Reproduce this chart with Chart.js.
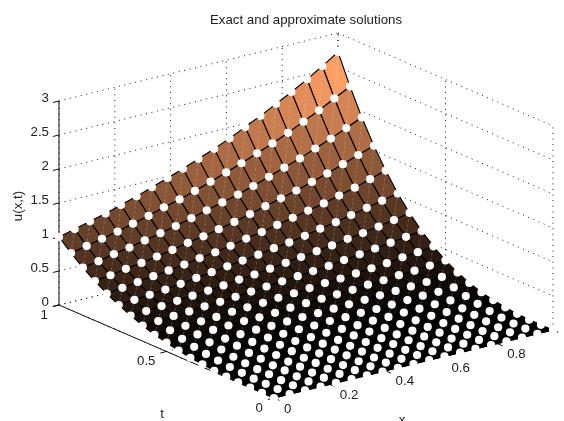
<!DOCTYPE html>
<html>
<head>
<meta charset="utf-8">
<title>Exact and approximate solutions</title>
<script src="https://cdn.jsdelivr.net/npm/chart.js@4"></script>
<style>
  html, body { margin: 0; padding: 0; background: #fff; overflow: hidden; }
  canvas { display: block; }
</style>
</head>
<body>
<canvas id="grafico" width="564" height="421"></canvas>
<script>
const titulo = 'Exact and approximate solutions';
const xNodes = [0, 0.056, 0.111, 0.167, 0.222, 0.278, 0.333, 0.389, 0.444, 0.5, 0.556, 0.611, 0.667, 0.722, 0.778, 0.833, 0.889, 0.944, 1];
const tNodes = [0, 0.056, 0.111, 0.167, 0.222, 0.278, 0.333, 0.389, 0.444, 0.5, 0.556, 0.611, 0.667, 0.722, 0.778, 0.833, 0.889, 0.944, 1];

// one row per t node, one column per x node
const uRows = [
  [0, 0, 0, 0, 0, 0, 0, 0, 0, 0, 0, 0, 0, 0, 0, 0, 0, 0, 0],
  [0, 0, 0, 0, 0, 0, 0, 0, 0, 0, 0, 0, 0, 0, 0, 0, 0, 0, 0],
  [0, 0, 0, 0, 0, 0, 0, 0, 0, 0, 0, 0, 0, 0, 0, 0, 0, 0, 0],
  [0, 0, 0.01, 0.01, 0.01, 0.01, 0.01, 0.01, 0.01, 0.01, 0.01, 0.01, 0.01, 0.01, 0.01, 0.01, 0.01, 0.01, 0.01],
  [0.01, 0.01, 0.01, 0.01, 0.01, 0.01, 0.02, 0.02, 0.02, 0.02, 0.02, 0.02, 0.02, 0.02, 0.02, 0.03, 0.03, 0.03, 0.03],
  [0.02, 0.02, 0.02, 0.03, 0.03, 0.03, 0.03, 0.03, 0.03, 0.04, 0.04, 0.04, 0.04, 0.04, 0.05, 0.05, 0.05, 0.06, 0.06],
  [0.04, 0.04, 0.04, 0.04, 0.05, 0.05, 0.05, 0.05, 0.06, 0.06, 0.06, 0.07, 0.07, 0.08, 0.08, 0.09, 0.09, 0.10, 0.10],
  [0.06, 0.06, 0.07, 0.07, 0.07, 0.08, 0.08, 0.09, 0.09, 0.10, 0.10, 0.11, 0.11, 0.12, 0.13, 0.14, 0.14, 0.15, 0.16],
  [0.09, 0.09, 0.10, 0.10, 0.11, 0.12, 0.12, 0.13, 0.14, 0.14, 0.15, 0.16, 0.17, 0.18, 0.19, 0.20, 0.21, 0.23, 0.24],
  [0.13, 0.13, 0.14, 0.15, 0.16, 0.17, 0.17, 0.18, 0.20, 0.21, 0.22, 0.23, 0.24, 0.26, 0.27, 0.29, 0.30, 0.32, 0.34],
  [0.17, 0.18, 0.19, 0.20, 0.21, 0.23, 0.24, 0.25, 0.27, 0.28, 0.30, 0.32, 0.33, 0.35, 0.37, 0.39, 0.42, 0.44, 0.47],
  [0.23, 0.24, 0.26, 0.27, 0.29, 0.30, 0.32, 0.34, 0.36, 0.38, 0.40, 0.42, 0.44, 0.47, 0.50, 0.53, 0.56, 0.59, 0.62],
  [0.30, 0.31, 0.33, 0.35, 0.37, 0.39, 0.41, 0.44, 0.46, 0.49, 0.52, 0.55, 0.58, 0.61, 0.65, 0.68, 0.72, 0.76, 0.81],
  [0.38, 0.40, 0.42, 0.44, 0.47, 0.50, 0.53, 0.56, 0.59, 0.62, 0.66, 0.69, 0.73, 0.78, 0.82, 0.87, 0.92, 0.97, 1.02],
  [0.47, 0.50, 0.53, 0.56, 0.59, 0.62, 0.66, 0.69, 0.73, 0.78, 0.82, 0.87, 0.92, 0.97, 1.02, 1.08, 1.14, 1.21, 1.28],
  [0.58, 0.61, 0.65, 0.68, 0.72, 0.76, 0.81, 0.85, 0.90, 0.95, 1.01, 1.07, 1.13, 1.19, 1.26, 1.33, 1.41, 1.49, 1.57],
  [0.70, 0.74, 0.79, 0.83, 0.88, 0.93, 0.98, 1.04, 1.10, 1.16, 1.22, 1.29, 1.37, 1.45, 1.53, 1.62, 1.71, 1.81, 1.91],
  [0.84, 0.89, 0.94, 0.99, 1.05, 1.11, 1.18, 1.24, 1.31, 1.39, 1.47, 1.55, 1.64, 1.73, 1.83, 1.94, 2.05, 2.17, 2.29],
  [1.00, 1.06, 1.12, 1.18, 1.25, 1.32, 1.40, 1.48, 1.56, 1.65, 1.74, 1.84, 1.95, 2.06, 2.18, 2.30, 2.43, 2.57, 2.72]
];

const xTicks = [0, 0.2, 0.4, 0.6, 0.8, 1];
const xTickLabels = ['0', '0.2', '0.4', '0.6', '0.8', ''];
const tTicks = [0, 0.5, 1];
const tTickLabels = ['0', '0.5', '1'];
const uTicks = [0, 0.5, 1, 1.5, 2, 2.5, 3];
const uTickLabels = ['0', '0.5', '1', '1.5', '2', '2.5', '3'];

const uMax = 2.72;

// view of the box: screen position of (x, t, u)
function projetar(x, t, u) {
  return {
    x: 274 + 279 * x - 215 * t,
    y: 398 - 68 * x - 93 * t - 68 * u
  };
}

// MATLAB copper colormap
function copper(v) {
  var r = Math.min(1, 1.25 * v) * 255;
  var g = 0.7812 * v * 255;
  var b = 0.4975 * v * 255;
  return `rgb(${Math.round(r)},${Math.round(g)},${Math.round(b)})`;
}

const quebra = { x: NaN, y: NaN };

// several separate segments in a single dataset
function segmentos(lista, cor, largura, tracejado) {
  var pontos = [];
  lista.forEach(function (seg) {
    pontos.push(projetar(seg[0], seg[1], seg[2]), projetar(seg[3], seg[4], seg[5]), quebra);
  });
  return {
    data: pontos,
    showLine: true,
    borderColor: cor,
    borderWidth: largura,
    borderDash: tracejado,
    pointRadius: 0,
    tension: 0,
    spanGaps: false
  };
}

// box walls and floor (dotted)
var grade = [];
uTicks.forEach(function (u) {
  grade.push([0, 1, u, 1, 1, u]);
  grade.push([1, 1, u, 1, 0, u]);
});
xTicks.forEach(function (x) {
  grade.push([x, 1, 0, x, 1, 3]);
  grade.push([x, 0, 0, x, 1, 0]);
});
tTicks.forEach(function (t) {
  grade.push([1, t, 0, 1, t, 3]);
  grade.push([0, t, 0, 1, t, 0]);
});

// solid axes and their tick marks
var eixos = [[0, 1, 0, 0, 1, 3], [0, 0, 0, 0, 1, 0], [0, 0, 0, 1, 0, 0]];
uTicks.forEach(function (u) { eixos.push([0, 1, u, -0.022, 1, u]); });
tTicks.forEach(function (t) { eixos.push([0, t, 0, -0.022, t, 0]); });
xTicks.forEach(function (x) { eixos.push([x, 0, 0, x, -0.025, 0]); });

// surface cells, flat colour taken from the lower corner
var celulas = [];
var diagonais = [];
var nos = [];
for (var j = 0; j < tNodes.length; j++) {
  for (var i = 0; i < xNodes.length; i++) {
    nos.push(projetar(xNodes[i], tNodes[j], uRows[j][i]));
    if (j == tNodes.length - 1 || i == xNodes.length - 1) continue;
    celulas.push({
      data: [
        projetar(xNodes[i], tNodes[j], uRows[j][i]),
        projetar(xNodes[i + 1], tNodes[j], uRows[j][i + 1]),
        projetar(xNodes[i + 1], tNodes[j + 1], uRows[j + 1][i + 1]),
        projetar(xNodes[i], tNodes[j + 1], uRows[j + 1][i]),
        projetar(xNodes[i], tNodes[j], uRows[j][i])
      ],
      showLine: true,
      fill: 'shape',
      backgroundColor: copper(uRows[j][i] / uMax),
      borderColor: '#000',
      borderWidth: 1.1,
      pointRadius: 0,
      tension: 0
    });
    diagonais.push([xNodes[i], tNodes[j], uRows[j][i], xNodes[i + 1], tNodes[j + 1], uRows[j + 1][i + 1]]);
  }
}

// first dataset is painted last, so the white nodes go first
var datasets = [{
  data: nos,
  showLine: false,
  pointStyle: 'circle',
  pointRadius: 4.1,
  pointBackgroundColor: '#fff',
  pointBorderWidth: 0
}];
datasets.push(segmentos(diagonais, 'rgba(255,255,255,0.28)', 0.7, [3, 2]));
datasets = datasets.concat(celulas);
datasets.push(segmentos(eixos, '#111', 1, []));
datasets.push(segmentos(grade, '#000', 0.9, [1, 4.6]));

const textos = {
  id: 'textos',
  afterDraw: function (chart) {
    var ctx = chart.ctx;
    var escalaX = chart.scales.x;
    var escalaY = chart.scales.y;

    function escrever(texto, px, py, alinhar) {
      ctx.textAlign = alinhar;
      ctx.fillText(texto, escalaX.getPixelForValue(px), escalaY.getPixelForValue(py));
    }

    ctx.save();
    ctx.fillStyle = '#222';
    ctx.textBaseline = 'middle';
    ctx.font = '13.3px "Liberation Sans", Arial, sans-serif';
    uTicks.forEach(function (u, k) {
      var p = projetar(0, 1, u);
      escrever(uTickLabels[k], p.x - 10, p.y - 3, 'right');
    });
    tTicks.forEach(function (t, k) {
      var p = projetar(0, t, 0);
      escrever(tTickLabels[k], p.x - 11, p.y + 10, 'right');
    });
    xTicks.forEach(function (x, k) {
      var p = projetar(x, 0, 0);
      escrever(xTickLabels[k], p.x + 10, p.y + 11, 'left');
    });
    escrever('t', 162, 414, 'center');
    escrever('x', 402, 420.5, 'center');
    escrever(titulo, 306, 20, 'center');

    ctx.translate(escalaX.getPixelForValue(18), escalaY.getPixelForValue(206));
    ctx.rotate(-Math.PI / 2);
    ctx.textAlign = 'center';
    ctx.fillText('u(x,t)', 0, 0);
    ctx.restore();
  }
};

new Chart(document.getElementById('grafico'), {
  type: 'scatter',
  data: { datasets: datasets },
  plugins: [textos],
  options: {
    responsive: false,
    animation: false,
    events: [],
    layout: { padding: 0, autoPadding: false },
    plugins: { legend: { display: false }, tooltip: { enabled: false }, title: { display: false } },
    scales: {
      x: { type: 'linear', display: false, min: 0, max: 564 },
      y: { type: 'linear', display: false, min: 0, max: 421, reverse: true }
    }
  }
});
</script>
</body>
</html>
